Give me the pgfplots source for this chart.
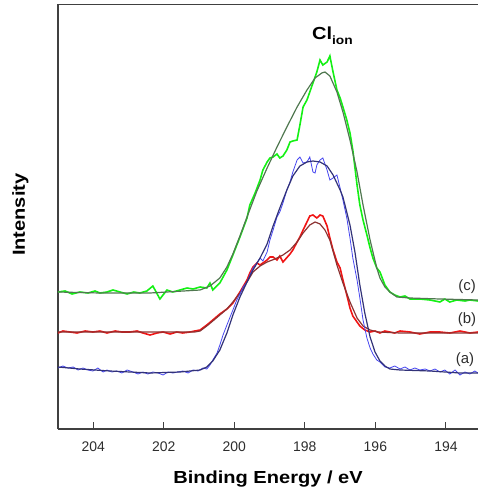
\documentclass[border=0pt]{standalone}
\usepackage{fontspec}
\setmainfont{Liberation Sans}
\newfontfamily\labelfont{Liberation Sans}[FakeStretch=1.15]
\usepackage{pgfplots}
\pgfplotsset{compat=1.18}

\definecolor{axisgray}{RGB}{64,64,64}
\definecolor{textgray}{RGB}{45,45,45}
\definecolor{greendata}{RGB}{20,240,20}
\definecolor{greenfit}{RGB}{80,120,80}
\definecolor{reddata}{RGB}{240,20,20}
\definecolor{redfit}{RGB}{140,50,50}
\definecolor{bluedata}{RGB}{70,70,240}
\definecolor{bluefit}{RGB}{50,50,120}

\begin{document}
\begin{tikzpicture}
\begin{axis}[
  width=420bp, height=424.5bp, scale only axis,
  xmin=193.09, xmax=205, ymin=0, ymax=424.5,
  x dir=reverse,
  axis x line*=box, axis y line*=left,
  axis line style={-, line width=1.2bp, color=axisgray},
  xtick={194,196,198,200,202,204}, ytick=\empty,
  xtick pos=left,
  tick align=inside, major tick length=7bp,
  xtick style={line width=1.1bp, color=axisgray},
  /pgf/number format/assume math mode=true,
  xticklabel style={font=\fontsize{14}{14}\selectfont, text=textgray, yshift=-9bp},
  xlabel={\labelfont\bfseries Binding Energy / eV},
  xlabel style={font=\fontsize{17.5}{17.5}\selectfont, at={(axis description cs:0.5,0)}, anchor=base, yshift=-54bp},
  ylabel={\labelfont\bfseries Intensity},
  ylabel style={font=\fontsize{17.5}{17.5}\selectfont, at={(axis description cs:0,0.5)}, anchor=base, yshift=33bp, xshift=2bp},
]
\coordinate (sw) at (axis cs:205,0);

% (c) green
\addplot[greendata, line width=1.6bp] coordinates {
(205.00,137) (204.80,138) (204.60,135) (204.38,137) (204.15,136) (203.95,138)
(203.81,136) (203.61,137) (203.44,139) (203.24,137) (203.04,135) (202.85,137)
(202.68,136) (202.48,138) (202.31,143) (202.11,130) (201.91,139) (201.74,137)
(201.54,139) (201.34,141) (201.17,140) (200.97,142) (200.78,141) (200.69,146)
(200.61,139) (200.41,146) (200.21,159) (200.04,174) (199.84,192) (199.64,211)
(199.56,224) (199.41,236) (199.27,249) (199.19,259) (199.07,267) (198.99,271)
(198.90,272) (198.79,275) (198.71,271) (198.62,273) (198.51,279) (198.42,287)
(198.34,288) (198.22,289) (198.14,304) (198.05,322) (197.94,329) (197.86,337)
(197.77,346) (197.66,357) (197.57,369) (197.49,364) (197.37,367) (197.29,373)
(197.20,357) (197.09,339) (197.00,331) (196.92,322) (196.81,309) (196.72,296)
(196.64,279) (196.52,244) (196.44,224) (196.35,209) (196.24,194) (196.15,181)
(196.07,171) (195.96,161) (195.87,157) (195.73,144) (195.59,137) (195.45,134)
(195.30,132) (195.16,133) (195.02,130) (194.74,130) (194.45,129) (194.17,127)
(194.03,130) (193.89,127) (193.69,129) (193.46,128) (193.32,129) (193.09,128)
};
\addplot[greenfit, line width=1.2bp] coordinates {
(205.00,137) (203.81,136) (202.39,136) (200.97,139) (200.69,143) (200.41,151)
(200.21,162) (200.04,175) (199.84,193) (199.64,212) (199.36,238) (199.07,261)
(198.79,282) (198.51,302) (198.22,322) (197.94,339) (197.71,351) (197.52,356)
(197.43,357) (197.29,353) (197.09,337) (196.92,317) (196.72,289) (196.52,257)
(196.35,224) (196.15,189) (195.96,161) (195.87,151) (195.73,142) (195.59,137)
(195.39,132) (195.02,131) (194.17,130) (193.09,129)
};

% (b) red
\addplot[reddata, line width=1.6bp] coordinates {
(205.00,96) (204.86,98) (204.66,97) (204.46,96) (204.23,98) (204.01,97)
(203.81,98) (203.61,96) (203.38,98) (203.19,97) (202.96,97) (202.76,98)
(202.59,96) (202.39,94) (202.19,96) (202.02,97) (201.82,95) (201.63,97)
(201.46,96) (201.26,97) (201.12,98) (200.97,99) (200.78,104) (200.61,109)
(200.41,115) (200.21,120) (200.04,126) (199.84,137) (199.64,149) (199.56,156)
(199.47,162) (199.36,166) (199.27,164) (199.07,169) (198.99,172) (198.90,172)
(198.79,169) (198.71,173) (198.62,167) (198.42,175) (198.34,179) (198.22,187)
(198.14,192) (198.05,199) (197.94,207) (197.86,213) (197.77,214) (197.66,211)
(197.57,214) (197.49,213) (197.37,203) (197.29,191) (197.20,179) (197.09,167)
(197.00,161) (196.92,149) (196.81,134) (196.72,121) (196.64,113) (196.52,107)
(196.44,103) (196.30,99) (196.15,97) (196.01,98) (195.87,96) (195.73,98)
(195.59,97) (195.45,96) (195.30,98) (195.02,97) (194.74,95) (194.45,97)
(194.17,97) (193.89,96) (193.60,98) (193.32,96) (193.09,97)
};
\addplot[redfit, line width=1.2bp] coordinates {
(205.00,97) (202.39,97) (201.12,97) (200.97,98) (200.78,103) (200.61,108)
(200.41,114) (200.21,120) (200.04,127) (199.84,136) (199.64,147) (199.47,157)
(199.27,163) (199.07,167) (198.85,170) (198.62,174) (198.42,179) (198.22,187)
(198.05,196) (197.86,204) (197.71,207) (197.57,205) (197.43,199) (197.29,189)
(197.09,164) (196.92,146) (196.72,127) (196.52,111) (196.35,103) (196.15,99)
(195.93,97) (195.30,96) (193.09,96)
};

% (a) blue
\addplot[bluedata, line width=0.8bp] coordinates {
(205.00,61) (204.86,63) (204.72,61) (204.57,62) (204.43,59) (204.29,61)
(204.15,59) (204.01,58) (203.87,61) (203.72,57) (203.61,59) (203.47,57)
(203.33,58) (203.19,56) (203.04,59) (202.87,57) (202.73,55) (202.59,57)
(202.45,55) (202.31,57) (202.16,56) (202.02,54) (201.88,57) (201.74,56)
(201.60,57) (201.46,58) (201.31,56) (201.17,59) (201.03,58) (200.89,61)
(200.78,60) (200.69,64) (200.61,69) (200.49,76) (200.41,84) (200.32,94)
(200.21,104) (200.12,112) (200.04,119) (199.93,129) (199.84,135) (199.75,142)
(199.64,147) (199.56,154) (199.47,161) (199.36,166) (199.27,171) (199.19,168)
(199.07,177) (198.99,189) (198.90,199) (198.79,212) (198.71,217) (198.62,226)
(198.51,239) (198.42,247) (198.34,257) (198.22,269) (198.14,272) (198.05,266)
(197.94,267) (197.86,272) (197.77,257) (197.71,256) (197.66,264) (197.57,269)
(197.49,271) (197.37,259) (197.29,249) (197.20,251) (197.09,254) (197.00,241)
(196.92,229) (196.81,211) (196.72,191) (196.64,171) (196.52,149) (196.44,131)
(196.35,109) (196.24,91) (196.15,81) (196.07,75) (195.96,69) (195.87,67)
(195.73,62) (195.59,61) (195.45,63) (195.30,60) (195.16,62) (195.02,59)
(194.88,61) (194.74,59) (194.59,60) (194.45,58) (194.31,60) (194.17,57)
(194.03,59) (193.89,55) (193.74,59) (193.60,54) (193.46,57) (193.32,55)
(193.18,58) (193.09,56)
};
\addplot[bluefit, line width=1.2bp] coordinates {
(205.00,62) (204.38,60) (203.53,58) (202.39,56) (201.54,57) (200.97,59)
(200.78,62) (200.61,68) (200.41,79) (200.21,96) (200.04,114) (199.84,132)
(199.64,147) (199.47,159) (199.27,171) (199.07,185) (198.90,203) (198.71,221)
(198.51,239) (198.34,253) (198.14,263) (197.94,267) (197.77,268) (197.57,267)
(197.37,263) (197.20,254) (197.00,239) (196.92,232) (196.72,204) (196.58,177)
(196.44,144) (196.30,116) (196.15,92) (196.01,77) (195.87,68) (195.73,63)
(195.59,60) (195.30,59) (194.45,58) (193.60,56) (193.09,56)
};

\node[font=\fontsize{15}{15}\selectfont, text=textgray] at (axis cs:193.40,142) {(c)};
\node[font=\fontsize{15}{15}\selectfont, text=textgray] at (axis cs:193.40,109) {(b)};
\node[font=\fontsize{15}{15}\selectfont, text=textgray] at (axis cs:193.46,69) {(a)};
\node[anchor=base west, inner sep=0pt, font=\fontsize{17.5}{17.5}\selectfont]
  at (axis cs:197.80,389) {\labelfont\bfseries Cl\raisebox{-5bp}{\fontsize{12}{12}\selectfont ion}};
\end{axis}
\pgfresetboundingbox
\path (sw) ++(-58bp,-63bp) rectangle ++(478bp,492bp);
\end{tikzpicture}
\end{document}
